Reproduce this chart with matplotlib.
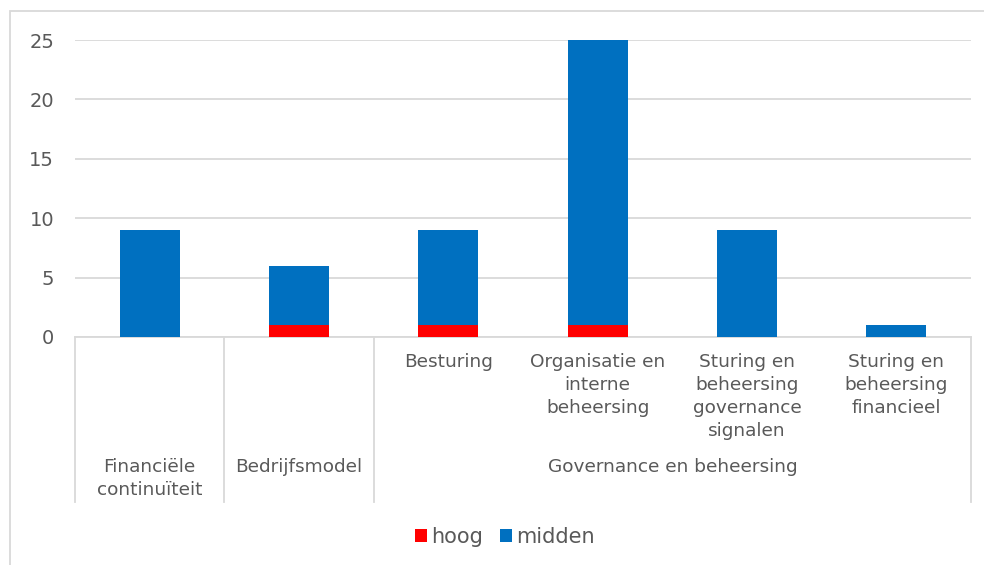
import matplotlib
matplotlib.use('Agg')
import matplotlib.pyplot as plt
import matplotlib.patches as mpatches
import matplotlib.transforms as mtransforms
import numpy as np

# Data
sub_labels = ['', '', 'Besturing', 'Organisatie en\ninterne\nbeheersing',
              'Sturing en\nbeheersing\ngovernance\nsignalen',
              'Sturing en\nbeheersing\nfinancieel']
groups = ['Financiële\ncontinuïteit', 'Bedrijfsmodel', 'Governance en beheersing']
group_sizes = [1, 1, 4]
hoog = [0, 1, 1, 1, 0, 0]
midden = [9, 5, 8, 24, 9, 1]

RED = '#FF0000'
BLUE = '#0070C0'
TXT = '#595959'
GRID = '#D9D9D9'

W, H = 984, 565
fig = plt.figure(figsize=(W / 100, H / 100), dpi=100)
ax = fig.add_axes([75 / W, 1 - 337 / H, (971 - 75) / W, (337 - 40) / H])

x = np.arange(len(hoog))
ax.bar(x, hoog, width=0.4, color=RED, label='hoog', zorder=3)
ax.bar(x, midden, width=0.4, bottom=hoog, color=BLUE, label='midden', zorder=3)

ax.set_xlim(-0.5, len(hoog) - 0.5)
ax.set_ylim(0, 25)
ax.set_yticks(range(0, 26, 5))
ax.yaxis.grid(True, color=GRID, linewidth=1.3, zorder=0)
ax.set_axisbelow(True)
for s in ['top', 'right', 'left']:
    ax.spines[s].set_visible(False)
ax.spines['bottom'].set_color(GRID)
ax.spines['bottom'].set_linewidth(1.3)
ax.tick_params(axis='y', length=0, labelsize=14, labelcolor=TXT, pad=15)
ax.tick_params(axis='x', length=0, labelbottom=False)

# hierarchical category axis
trans = mtransforms.blended_transform_factory(ax.transData, fig.transFigure)
for i, lab in enumerate(sub_labels):
    if lab:
        ax.text(i, 1 - 353 / H, lab, transform=trans, ha='center', va='top',
                fontsize=13.3, color=TXT, linespacing=1.35)

start = 0
edges = [-0.5]
for g, n in zip(groups, group_sizes):
    center = start + (n - 1) / 2
    ax.text(center, 1 - 458 / H, g, transform=trans, ha='center', va='top',
            fontsize=13.3, color=TXT, linespacing=1.35)
    start += n
    edges.append(start - 0.5)

for e in edges:
    ax.add_line(plt.Line2D([e, e], [1 - 337 / H, 1 - 502 / H], transform=trans,
                           color=GRID, linewidth=1.3, clip_on=False))

leg = fig.legend(loc='center', bbox_to_anchor=(505 / W, 1 - 537 / H), ncol=2,
                 frameon=False, fontsize=15, handlelength=0.6, handleheight=0.6,
                 handletextpad=0.2, columnspacing=0.8)
for t in leg.get_texts():
    t.set_color(TXT)

# chart border
fig.add_artist(mpatches.Rectangle((10 / W, -0.1), 1.2, 1 - 11 / H + 0.1,
                                  transform=fig.transFigure, fill=False,
                                  edgecolor=GRID, linewidth=1.3))

fig.savefig('out.png', dpi=100)
